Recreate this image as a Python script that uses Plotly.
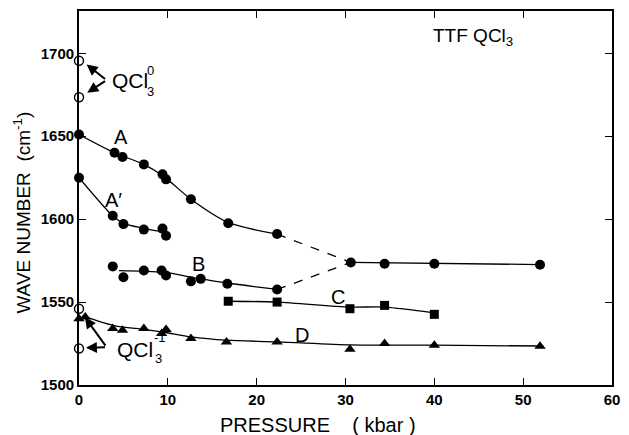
import plotly.graph_objects as go

# ---------------- data ----------------
# band A (circles)
A_x = [0, 4.0, 4.9, 7.3, 9.4, 9.8, 12.6, 16.8, 22.3]
A_y = [1651, 1640, 1637.5, 1633, 1627, 1624, 1612, 1597.5, 1591]
# band A' (circles)
Ap_x = [0, 3.8, 5.0, 7.3, 9.4, 9.8]
Ap_y = [1625, 1602, 1597, 1593.7, 1594.3, 1590]
# band B (circles)
B_x = [3.8, 5.0, 7.3, 9.3, 9.8, 12.6, 13.7, 16.7, 22.3]
B_y = [1571.5, 1565, 1569, 1569, 1566, 1562.5, 1564, 1561, 1557.6]
# merged A/B band above ~30 kbar (circles)
AB_x = [30.6, 34.4, 40.0, 51.9]
AB_y = [1573.9, 1573.1, 1573.1, 1572.5]
# band C (squares)
C_x = [16.8, 22.3, 30.5, 34.4, 40.0]
C_y = [1550.5, 1550, 1546, 1548, 1542.6]
# band D (triangles)
D_x = [0, 0.7, 3.8, 4.9, 7.3, 9.3, 9.8, 12.6, 16.6, 22.3, 30.5, 34.4, 40.0, 51.9]
D_y = [1540, 1541, 1534, 1533, 1534, 1531, 1533.5, 1528, 1526, 1526, 1521.6, 1525, 1524, 1523.4]
# reference values of neutral QCl3 and the QCl3 anion (open circles)
Q0_x = [0, 0]
Q0_y = [1695.5, 1673.5]
Qm_x = [0, 0]
Qm_y = [1546, 1522]

# hand-drawn guide curves
curveA_x = [0, 4.0, 7.3, 9.6, 12.6, 16.8, 22.3]
curveA_y = [1651, 1640, 1633, 1625.5, 1612, 1598, 1591]
curveAp_x = [0, 3.8, 5.0, 7.3, 9.8]
curveAp_y = [1625, 1602, 1597.5, 1594.5, 1592]
curveB_x = [4.5, 9.5, 13.2, 16.7, 22.3]
curveB_y = [1569, 1568, 1564.5, 1561.5, 1557.6]
curveAB_x = [30.6, 52.0]
curveAB_y = [1573.9, 1572.6]
curveC_x = [16.8, 22.3, 30.5, 34.4, 40.0]
curveC_y = [1550.5, 1550, 1547, 1547, 1543.5]
curveD_x = [0.5, 3.8, 7.3, 9.6, 12.6, 16.6, 22.3, 30.5, 34.4, 40.0, 52.0]
curveD_y = [1541.5, 1536, 1533.5, 1531.8, 1529, 1527, 1526, 1524.2, 1524, 1524, 1523.5]
dashA_x = [22.3, 30.6]
dashA_y = [1591, 1573.9]
dashB_x = [22.3, 30.6]
dashB_y = [1557.6, 1573.9]

# axis ticks
x_ticks = [0, 10, 20, 30, 40, 50, 60]
y_ticks = [1500, 1550, 1600, 1650, 1700]

FONT = "Liberation Sans, Arial, sans-serif"
BLACK = "#000000"

fig = go.Figure()

def curve(x, y, dash="solid", shape="spline"):
    fig.add_trace(go.Scatter(x=x, y=y, mode="lines", cliponaxis=False,
                             line=dict(color=BLACK, width=1.3, dash=dash, shape=shape, smoothing=0.8),
                             showlegend=False, hoverinfo="skip"))

curve(curveA_x, curveA_y)
curve(curveAp_x, curveAp_y)
curve(curveB_x, curveB_y)
curve(curveAB_x, curveAB_y, shape="linear")
curve(curveC_x, curveC_y)
curve(curveD_x, curveD_y)
curve(dashA_x, dashA_y, dash="dash", shape="linear")
curve(dashB_x, dashB_y, dash="dash", shape="linear")

def pts(x, y, symbol, size, fill=BLACK, lw=0):
    fig.add_trace(go.Scatter(x=x, y=y, mode="markers", cliponaxis=False,
                             marker=dict(symbol=symbol, size=size, color=fill,
                                         line=dict(color=BLACK, width=lw)),
                             showlegend=False))

pts(A_x, A_y, "circle", 10)
pts(Ap_x, Ap_y, "circle", 10)
pts(B_x, B_y, "circle", 10)
pts(AB_x, AB_y, "circle", 10)
pts(C_x, C_y, "square", 9)
pts(D_x, D_y, "triangle-up", 10)
pts(Q0_x, Q0_y, "circle", 9, fill="white", lw=1.4)
pts(Qm_x, Qm_y, "circle", 9, fill="white", lw=1.4)

ann = []
def label(x, y, text, size=20, **kw):
    ann.append(dict(x=x, y=y, xref="x", yref="y", text=text, showarrow=False,
                    font=dict(family=FONT, size=size, color=BLACK), **kw))

label(4.7, 1649.5, "A")
label(3.9, 1611.7, "A\u2032")
label(13.4, 1572.7, "B")
label(29.2, 1552.9, "C")
label(25.1, 1530.0, "D")
label(44.4, 1710.0, "TTF QCl<sub>3</sub>", size=19)

# QCl3^0 label with stacked scripts
label(3.45, 1683.5, "QCl", size=21, xanchor="left")
label(8.1, 1689.6, "0", size=13)
label(8.0, 1677.0, "3", size=13)
# QCl3^-1 label
label(4.0, 1521.3, "QCl", size=21, xanchor="left")
label(9.1, 1528.8, "-1", size=13)
label(9.0, 1516.0, "3", size=13)

def arrow(tx, ty, fx, fy):
    ann.append(dict(x=tx, y=ty, ax=fx, ay=fy, xref="x", yref="y", axref="x", ayref="y",
                    text="", showarrow=True, arrowhead=2, arrowsize=1.1, arrowwidth=2,
                    arrowcolor=BLACK, standoff=0))

arrow(0.86, 1693.2, 3.1, 1683.8)
arrow(0.93, 1676.2, 3.1, 1683.8)
arrow(0.67, 1540.8, 3.1, 1522.8)
arrow(0.78, 1522.4, 3.1, 1522.8)

# axis titles
ann.append(dict(x=0.449, y=-0.106, xref="paper", yref="paper", xanchor="center", yanchor="middle",
                text="PRESSURE &nbsp;&nbsp;&nbsp;( kbar )", showarrow=False,
                font=dict(family=FONT, size=20, color=BLACK)))
ann.append(dict(x=-0.1076, y=0.46, xref="paper", yref="paper", xanchor="center", yanchor="middle",
                textangle=-90,
                text="WAVE NUMBER &nbsp;(cm<sup>-1</sup>)", showarrow=False,
                font=dict(family=FONT, size=19, color=BLACK)))

axis_common = dict(showline=True, linecolor=BLACK, linewidth=1.8, mirror="ticks",
                   ticks="inside", ticklen=7, tickwidth=1.4, tickcolor=BLACK,
                   showgrid=False, zeroline=False, tickmode="array",
                   tickfont=dict(family=FONT, size=15, color=BLACK))

fig.update_layout(
    width=629, height=435,
    margin=dict(l=79, r=11, t=9, b=50),
    paper_bgcolor="white", plot_bgcolor="white",
    xaxis=dict(range=[0, 60], tickvals=x_ticks,
               ticktext=["<b>%d</b>" % v for v in x_ticks], **axis_common),
    yaxis=dict(range=[1500, 1725.5], tickvals=y_ticks,
               ticktext=["<b>%d</b>" % v for v in y_ticks], **axis_common),
    annotations=ann,
    showlegend=False,
)

fig.write_html("out.html")
